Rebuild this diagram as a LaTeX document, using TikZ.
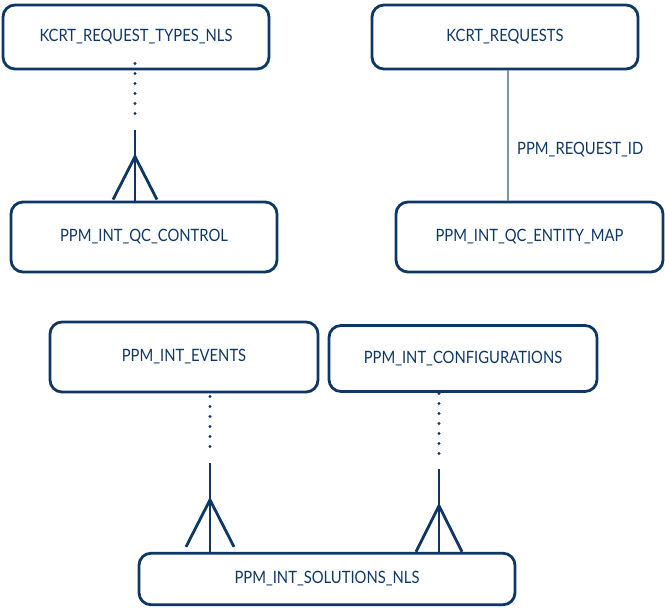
\documentclass[tikz,border=0pt]{standalone}
\usepackage{fontspec}
\setmainfont{Lato}[FakeStretch=0.87]
\definecolor{navy}{HTML}{0F3765}
\definecolor{thinline}{HTML}{8093AB}
\begin{document}
\begin{tikzpicture}[x=1pt,y=-1pt,
  ent/.style={draw=navy, line width=2.8pt, rounded corners=12pt, text=navy,
    inner sep=0pt, font=\fontsize{17}{20}\selectfont},
  dotline/.style={draw=navy, line width=3.2pt, line cap=round, dash pattern=on 0pt off 10pt},
  crowline/.style={draw=navy, line width=2.8pt},
  relline/.style={draw=thinline, line width=1.2pt},
  lbl/.style={text=navy, inner sep=0pt, font=\fontsize{17}{20}\selectfont},
]
\useasboundingbox (0,0) rectangle (665,608);
\node[ent, minimum width=266pt, minimum height=64pt] (a) at (136,37) {KCRT\_REQUEST\_TYPES\_NLS};
\node[ent, minimum width=266pt, minimum height=70pt] (b) at (144,237) {PPM\_INT\_QC\_CONTROL};
\node[ent, minimum width=266pt, minimum height=64pt] (c) at (505,37) {KCRT\_REQUESTS};
\node[ent, minimum width=267pt, minimum height=70pt] (d) at (529.5,237) {PPM\_INT\_QC\_ENTITY\_MAP};
\node[ent, minimum width=268pt, minimum height=70pt] (e) at (184,357) {PPM\_INT\_EVENTS};
\node[ent, minimum width=268pt, minimum height=66pt] (f) at (463,358.5) {PPM\_INT\_CONFIGURATIONS};
\node[ent, minimum width=376pt, minimum height=51.5pt] (g) at (327,579) {PPM\_INT\_SOLUTIONS\_NLS};

% a -> b
\coordinate (ab) at (135,130);
\draw[dotline] (a.south -| ab) ++(0,-7) -- ++(0,60);
\draw[crowline] (ab) -- (b.north -| ab);
\draw[crowline] (b.north -| ab) ++(-22,-1) -- ++(22,-43) -- ++(22,43);

% c -> d
\coordinate (cd) at (508,0);
\draw[relline] (c.south -| cd) -- (d.north -| cd);
\node[lbl, anchor=west] (lab) at (517,150) {PPM\_REQUEST\_ID};

% e -> g
\coordinate (eg) at (210,463);
\draw[dotline] (e.south -| eg) ++(0,3) -- ++(0,59);
\draw[crowline] (eg) -- (g.north -| eg);
\draw[crowline] (g.north -| eg) ++(-24,-5) -- ++(24,-47) -- ++(24,47);

% f -> g
\coordinate (fg) at (439,469);
\draw[dotline] (f.south -| fg) ++(0,0.5) -- ++(0,69);
\draw[crowline] (fg) -- (g.north -| fg);
\draw[crowline] (g.north -| fg) ++(-23,0) -- ++(23,-46) -- ++(23,46);
\end{tikzpicture}
\end{document}
